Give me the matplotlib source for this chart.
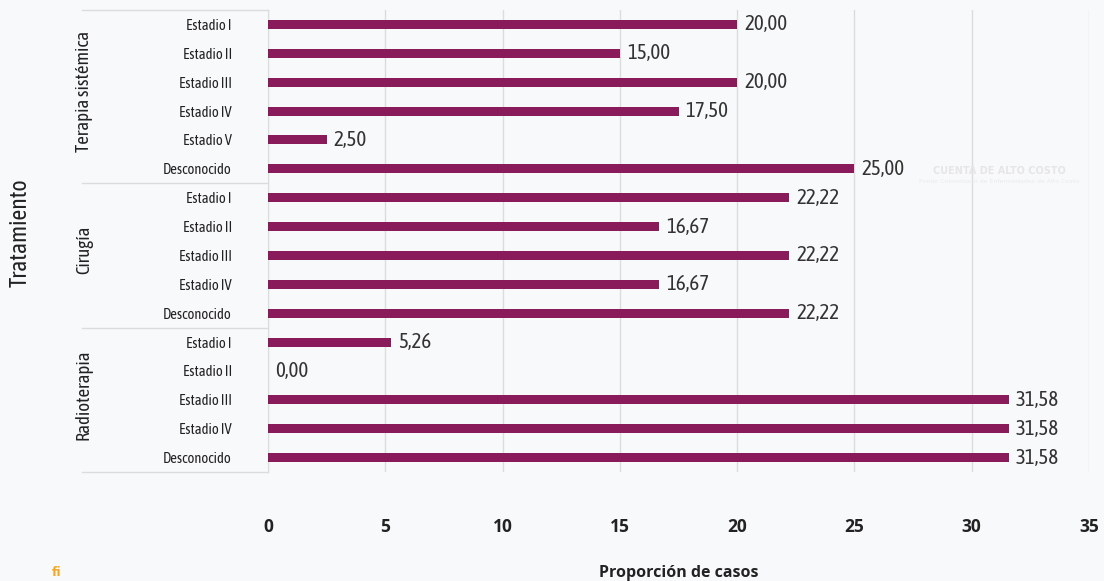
import numpy as np
import matplotlib.pyplot as plt

# Proporción de casos por tratamiento y estadio
grupos = ["Terapia sistémica", "Cirugía", "Radioterapia"]
estadios_terapia = ["Estadio I", "Estadio II", "Estadio III", "Estadio IV", "Estadio V", "Desconocido"]
estadios_cirugia = ["Estadio I", "Estadio II", "Estadio III", "Estadio IV", "Desconocido"]
estadios_radio = ["Estadio I", "Estadio II", "Estadio III", "Estadio IV", "Desconocido"]
valores_terapia = [20.00, 15.00, 20.00, 17.50, 2.50, 25.00]
valores_cirugia = [22.22, 16.67, 22.22, 16.67, 22.22]
valores_radio = [5.26, 0.00, 31.58, 31.58, 31.58]
ticks_x = [0, 5, 10, 15, 20, 25, 30, 35]

fondo = "#f8f9fb"
color_barra = "#8a1b5a"
fuente = ["Asap Condensed", "Archivo Narrow", "DejaVu Sans"]

etiquetas = estadios_terapia + estadios_cirugia + estadios_radio
valores = valores_terapia + valores_cirugia + valores_radio
tamanos = [len(estadios_terapia), len(estadios_cirugia), len(estadios_radio)]
y = np.arange(len(valores))

fig = plt.figure(figsize=(11.04, 5.81), dpi=100, facecolor=fondo)
ax = fig.add_axes([0.2428, 0.1876, 0.7436, 0.7952], facecolor=fondo)

ax.barh(y, valores, height=0.31, color=color_barra, zorder=3)
for yi, v in zip(y, valores):
    ax.text(v + 0.3, yi, f"{v:.2f}".replace(".", ","), va="center", ha="left",
            fontsize=15, color="#333333", family=fuente, zorder=4)

ax.set_xlim(0, 35)
ax.set_ylim(len(valores) - 0.5, -0.5)
ax.set_xticks(ticks_x)
ax.set_xticklabels([str(t) for t in ticks_x], fontsize=12.5, fontweight="bold",
                   color="#222222", family="Open Sans")
ax.tick_params(axis="x", length=0, pad=33)
ax.set_yticks(y)
ax.set_yticklabels(etiquetas, fontsize=10.5, family=fuente, color="#222222")
ax.tick_params(axis="y", length=0, pad=26)

ax.grid(axis="x", color="#dcdcdc", linewidth=1, zorder=0)
for lado in ["top", "right", "bottom"]:
    ax.spines[lado].set_visible(False)
ax.spines["left"].set_color("#dcdcdc")

ax.set_xlabel("Proporción de casos", fontsize=11.5, fontweight="bold",
              color="#222222", family="Open Sans", labelpad=21)

# separadores de grupos y nombres de tratamiento
inicio = 0
x_linea = -(268 - 82) / (1089 - 268) * 35
for nombre, n in zip(grupos, tamanos):
    ax.plot([x_linea, 0], [inicio - 0.5, inicio - 0.5], color="#dcdcdc",
            linewidth=1, clip_on=False)
    centro = inicio + (n - 1) / 2 - 0.18
    ax.text(x_linea + 0.08, centro, nombre, rotation=90, ha="center", va="center",
            fontsize=13.5, family=fuente, color="#222222")
    inicio += n
ax.plot([x_linea, 0], [inicio - 0.5, inicio - 0.5], color="#dcdcdc",
        linewidth=1, clip_on=False)

fig.text(0.018, 0.60, "Tratamiento", rotation=90, ha="center", va="center",
         fontsize=17, family=fuente, color="#222222")

# marca de agua
fig.text(0.905, 0.705, "CUENTA DE ALTO COSTO", ha="center", va="center",
         fontsize=7, fontweight="bold", color="#e6e6e6", zorder=1)
fig.text(0.905, 0.688, "Fondo Colombiano de Enfermedades de Alto Costo", ha="center",
         va="center", fontsize=4.5, color="#eaeaea", zorder=1)

fig.text(0.051, 0.003, "fi", ha="center", va="bottom", fontsize=9,
         fontweight="bold", color="#f5a623")

fig.savefig("out.png", dpi=100, facecolor=fondo)
